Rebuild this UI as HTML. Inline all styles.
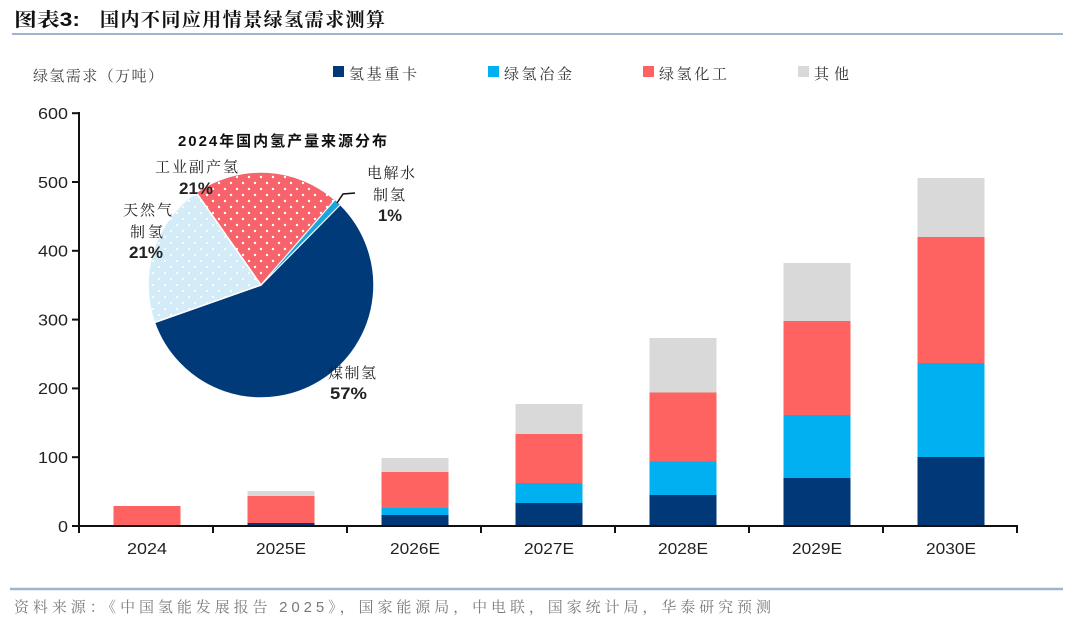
<!DOCTYPE html>
<html>
<head>
<meta charset="utf-8">
<style>
html,body{margin:0;padding:0;background:#fff;}
svg{display:block;}
.cjk{font-family:"Liberation Serif","Noto Serif CJK SC",serif;}
.sans{font-family:"Liberation Sans","Noto Sans CJK SC",sans-serif;}
</style>
</head>
<body>
<svg width="1080" height="622" viewBox="0 0 1080 622" xmlns="http://www.w3.org/2000/svg">
<defs>
<pattern id="dotR" width="12" height="12" patternUnits="userSpaceOnUse">
<rect width="12" height="12" fill="#f7636a"/>
<circle cx="3" cy="3" r="1.2" fill="#fff"/>
<circle cx="9" cy="9" r="1.2" fill="#fff"/>
</pattern>
<pattern id="dotB" width="12" height="12" patternUnits="userSpaceOnUse">
<rect width="12" height="12" fill="#d4ecf8"/>
<circle cx="3" cy="3" r="1.1" fill="#fff"/>
<circle cx="9" cy="9" r="1.1" fill="#fff"/>
</pattern>
</defs>

<!-- Title -->
<text x="14" y="26" class="cjk" font-size="19" font-weight="bold" fill="#111" textLength="66" lengthAdjust="spacingAndGlyphs">图表<tspan font-family="Liberation Sans, sans-serif">3:</tspan></text>
<text x="100" y="26" class="cjk" font-size="19" font-weight="bold" fill="#111" textLength="285" lengthAdjust="spacing">国内不同应用情景绿氢需求测算</text>
<line x1="12" y1="34" x2="1063" y2="34" stroke="#9fb4d0" stroke-width="2"/>

<!-- Y title -->
<text x="33" y="81" class="cjk" font-size="15" fill="#444" textLength="130" lengthAdjust="spacing">绿氢需求（万吨）</text>

<!-- Legend -->
<rect x="333" y="66" width="11" height="11" fill="#003878"/>
<text x="349" y="79" class="cjk" font-size="15" fill="#333" textLength="68" lengthAdjust="spacing">氢基重卡</text>
<rect x="488" y="66" width="11" height="11" fill="#00b0f0"/>
<text x="504" y="79" class="cjk" font-size="15" fill="#333" textLength="68" lengthAdjust="spacing">绿氢冶金</text>
<rect x="643" y="66" width="11" height="11" fill="#ff6361"/>
<text x="659" y="79" class="cjk" font-size="15" fill="#333" textLength="68" lengthAdjust="spacing">绿氢化工</text>
<rect x="798" y="66" width="11" height="11" fill="#d9d9d9"/>
<text x="814" y="79" class="cjk" font-size="15" fill="#333" textLength="35" lengthAdjust="spacing">其他</text>

<!-- Bars -->
<g>
<rect x="113.5" y="506" width="67" height="20" fill="#ff6361"/>
<rect x="247.5" y="491" width="67" height="5" fill="#d9d9d9"/>
<rect x="247.5" y="496" width="67" height="27" fill="#ff6361"/>
<rect x="247.5" y="523" width="67" height="3" fill="#003878"/>
<rect x="381.5" y="458" width="67" height="14" fill="#d9d9d9"/>
<rect x="381.5" y="472" width="67" height="36" fill="#ff6361"/>
<rect x="381.5" y="508" width="67" height="7" fill="#00b0f0"/>
<rect x="381.5" y="515" width="67" height="11" fill="#003878"/>
<rect x="515.5" y="404" width="67" height="30" fill="#d9d9d9"/>
<rect x="515.5" y="434" width="67" height="49" fill="#ff6361"/>
<rect x="515.5" y="483" width="67" height="20" fill="#00b0f0"/>
<rect x="515.5" y="503" width="67" height="23" fill="#003878"/>
<rect x="649.5" y="338" width="67" height="54.5" fill="#d9d9d9"/>
<rect x="649.5" y="392.5" width="67" height="69" fill="#ff6361"/>
<rect x="649.5" y="461.5" width="67" height="33.5" fill="#00b0f0"/>
<rect x="649.5" y="495" width="67" height="31" fill="#003878"/>
<rect x="783.5" y="263" width="67" height="58" fill="#d9d9d9"/>
<rect x="783.5" y="321" width="67" height="94" fill="#ff6361"/>
<rect x="783.5" y="415" width="67" height="63" fill="#00b0f0"/>
<rect x="783.5" y="478" width="67" height="48" fill="#003878"/>
<rect x="917.5" y="178" width="67" height="59" fill="#d9d9d9"/>
<rect x="917.5" y="237" width="67" height="126" fill="#ff6361"/>
<rect x="917.5" y="363" width="67" height="94" fill="#00b0f0"/>
<rect x="917.5" y="457" width="67" height="69" fill="#003878"/>
</g>

<!-- Axes -->
<g stroke="#111" stroke-width="2" fill="none">
<line x1="79" y1="112" x2="79" y2="527"/>
<line x1="78" y1="526" x2="1018" y2="526"/>
<line x1="72" y1="113.2" x2="79" y2="113.2"/>
<line x1="72" y1="182" x2="79" y2="182"/>
<line x1="72" y1="250.8" x2="79" y2="250.8"/>
<line x1="72" y1="319.6" x2="79" y2="319.6"/>
<line x1="72" y1="388.4" x2="79" y2="388.4"/>
<line x1="72" y1="457.2" x2="79" y2="457.2"/>
<line x1="72" y1="526" x2="79" y2="526"/>
<line x1="79" y1="526" x2="79" y2="533"/>
<line x1="213" y1="526" x2="213" y2="533"/>
<line x1="347" y1="526" x2="347" y2="533"/>
<line x1="481" y1="526" x2="481" y2="533"/>
<line x1="615" y1="526" x2="615" y2="533"/>
<line x1="749" y1="526" x2="749" y2="533"/>
<line x1="883" y1="526" x2="883" y2="533"/>
<line x1="1017" y1="526" x2="1017" y2="533"/>
</g>

<g class="sans" font-size="16" fill="#222">
<text x="38" y="119" textLength="30" lengthAdjust="spacingAndGlyphs">600</text>
<text x="38" y="187.8" textLength="30" lengthAdjust="spacingAndGlyphs">500</text>
<text x="38" y="256.6" textLength="30" lengthAdjust="spacingAndGlyphs">400</text>
<text x="38" y="325.4" textLength="30" lengthAdjust="spacingAndGlyphs">300</text>
<text x="38" y="394.2" textLength="30" lengthAdjust="spacingAndGlyphs">200</text>
<text x="38" y="463" textLength="30" lengthAdjust="spacingAndGlyphs">100</text>
<text x="58" y="531.8" textLength="10" lengthAdjust="spacingAndGlyphs">0</text>
</g>
<g class="sans" font-size="16" fill="#222">
<text x="127" y="554" textLength="40" lengthAdjust="spacingAndGlyphs">2024</text>
<text x="256" y="554" textLength="50" lengthAdjust="spacingAndGlyphs">2025E</text>
<text x="390" y="554" textLength="50" lengthAdjust="spacingAndGlyphs">2026E</text>
<text x="524" y="554" textLength="50" lengthAdjust="spacingAndGlyphs">2027E</text>
<text x="658" y="554" textLength="50" lengthAdjust="spacingAndGlyphs">2028E</text>
<text x="792" y="554" textLength="50" lengthAdjust="spacingAndGlyphs">2029E</text>
<text x="926" y="554" textLength="50" lengthAdjust="spacingAndGlyphs">2030E</text>
</g>

<!-- Pie -->
<g stroke="#fff" stroke-width="1.5" stroke-linejoin="round">
<path d="M261,285 L340.3,204.5 A113,113 0 1,1 154.4,322.5 Z" fill="#003a78"/>
<path d="M261,285 L154.4,322.5 A113,113 0 0,1 196.2,192.4 Z" fill="url(#dotB)"/>
<path d="M261,285 L196.2,192.4 A113,113 0 0,1 335.1,199.7 Z" fill="url(#dotR)"/>
<path d="M261,285 L335.1,199.7 A113,113 0 0,1 340.3,204.5 Z" fill="#1ba6e0" stroke-width="0.8"/>
</g>
<polyline points="337,203 343,194 355,193" fill="none" stroke="#111" stroke-width="1.5"/>

<text x="178" y="146" class="sans" font-size="15" font-weight="bold" fill="#111" textLength="209" lengthAdjust="spacing">2024年国内氢产量来源分布</text>

<g class="cjk" font-size="15" fill="#222">
<text x="155" y="172" textLength="83" lengthAdjust="spacing">工业副产氢</text>
<text x="123" y="215" textLength="49" lengthAdjust="spacing">天然气</text>
<text x="130" y="237" textLength="33" lengthAdjust="spacing">制氢</text>
<text x="367" y="178" textLength="48" lengthAdjust="spacing">电解水</text>
<text x="373" y="200" textLength="32" lengthAdjust="spacing">制氢</text>
<text x="328" y="378" textLength="48" lengthAdjust="spacing">煤制氢</text>
</g>
<g class="sans" font-size="17" font-weight="bold" fill="#222">
<text x="179" y="194" textLength="34" lengthAdjust="spacingAndGlyphs">21%</text>
<text x="129" y="258" textLength="34" lengthAdjust="spacingAndGlyphs">21%</text>
<text x="378" y="221" textLength="24" lengthAdjust="spacingAndGlyphs">1%</text>
<text x="330" y="399" textLength="37" lengthAdjust="spacingAndGlyphs">57%</text>
</g>

<!-- Footer -->
<line x1="10" y1="589" x2="1063" y2="589" stroke="#9fb4d0" stroke-width="2.5"/>
<text x="14" y="612" class="cjk" font-size="15" fill="#7a7a7a" textLength="757" lengthAdjust="spacing">资料来源：《中国氢能发展报告 <tspan font-family="Liberation Sans, sans-serif">2025</tspan>》，国家能源局，中电联，国家统计局，华泰研究预测</text>
</svg>
</body>
</html>
